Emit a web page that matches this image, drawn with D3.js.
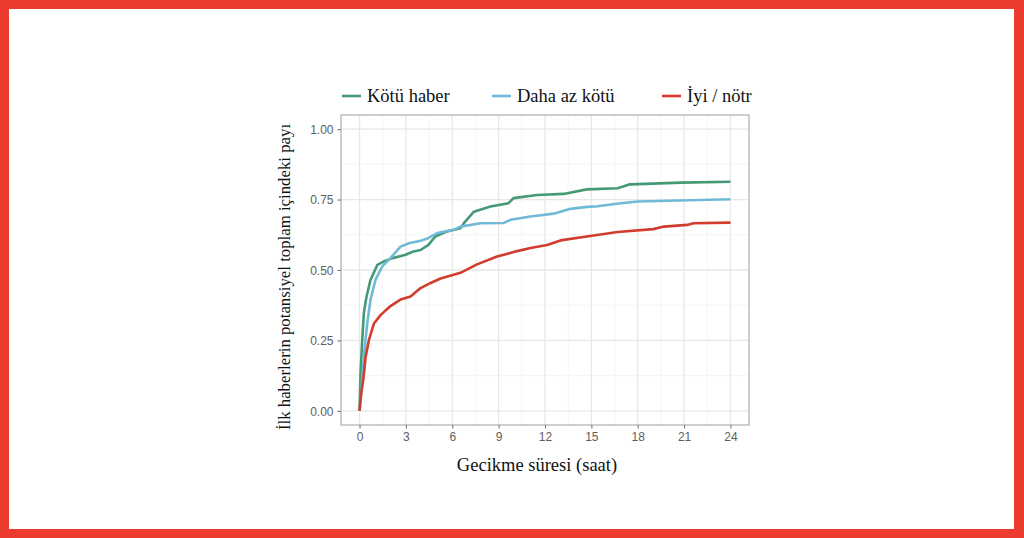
<!DOCTYPE html>
<html>
<head>
<meta charset="utf-8">
<script src="https://cdn.jsdelivr.net/npm/d3@7"></script>
<style>
  html, body { margin: 0; padding: 0; background: #fff; }
  .tick-label { font-family: "Liberation Sans", Arial, sans-serif; font-size: 12px; fill: #5e5e5e; }
  .title { font-family: "Liberation Serif", "Times New Roman", serif; font-size: 18.5px; fill: #111; }
</style>
</head>
<body>
<div id="chart"></div>
<script>
// series: [hours, share]
var seriesNames = ["Kötü haber", "Daha az kötü", "İyi / nötr"],
    seriesColors = ["#449a74", "#70bad8", "#d23c2c"];

var kotuHaber = [[0,0],[0.065,0.136],[0.175,0.253],[0.28,0.349],[0.45,0.405],[0.71,0.465],[1.15,0.518],[1.55,0.530],
    [2.2,0.543],[2.98,0.554],[3.5,0.566],[3.95,0.571],[4.46,0.589],[4.9,0.619],[5.67,0.637],[6.53,0.648],[6.75,0.666],
    [7.4,0.707],[8.47,0.725],[9.64,0.737],[9.96,0.755],[11.5,0.766],[13.2,0.770],[14.7,0.786],[16.7,0.790],[17.5,0.804],
    [20.8,0.810],[24,0.813]];

var dahaAzKotu = [[0,0],[0.1,0.06],[0.17,0.11],[0.28,0.194],[0.5,0.312],[0.71,0.395],[1.03,0.465],[1.47,0.513],
    [2.0,0.542],[2.65,0.583],[3.19,0.595],[3.95,0.604],[4.4,0.612],[5.03,0.631],[6.1,0.643],[6.53,0.654],[7.83,0.666],
    [9.33,0.667],[9.77,0.678],[11.06,0.690],[12.57,0.700],[13.65,0.717],[14.7,0.724],[15.4,0.726],[16.9,0.737],
    [18,0.743],[24,0.751]];

var iyiNotr = [[0,0],[0.1,0.06],[0.24,0.11],[0.39,0.19],[0.6,0.25],[0.93,0.31],[1.36,0.34],[2.0,0.372],[2.65,0.395],
    [3.3,0.406],[3.95,0.436],[4.6,0.454],[5.24,0.47],[6.53,0.49],[7.6,0.52],[8.9,0.548],[10.2,0.567],[11.06,0.578],
    [12.14,0.589],[13,0.605],[14.7,0.619],[16.7,0.635],[19,0.645],[19.7,0.654],[21.2,0.66],[21.6,0.666],[24,0.668]];

var xTicks = [0, 3, 6, 9, 12, 15, 18, 21, 24],
    yTicks = [0, 0.25, 0.5, 0.75, 1];

var xTitle = "Gecikme süresi (saat)",
    yTitle = "İlk haberlerin potansiyel toplam içindeki payı";

// settings
var W = 1024, H = 538,
    panel = { left: 341, right: 749, top: 115, bottom: 425 };

var x = d3.scaleLinear().domain([-1.2, 25.2]).range([panel.left, panel.right]),
    y = d3.scaleLinear().domain([-0.05, 1.05]).range([panel.bottom, panel.top]);

var svg = d3.select("#chart").append("svg")
    .attr("width", W)
    .attr("height", H);

// red frame
svg.append("rect").attr("width", W).attr("height", H).attr("fill", "#ee3b30");
svg.append("rect").attr("x", 9).attr("y", 9).attr("width", 1005).attr("height", 520).attr("fill", "#fff");

// grid
var xMinor = xTicks.slice(1).map(function(d) { return d - 1.5; }),
    yMinor = yTicks.slice(1).map(function(d) { return d - 0.125; });

var grid = svg.append("g");
grid.selectAll(".xminor").data(xMinor).enter().append("line")
    .attr("x1", x).attr("x2", x).attr("y1", panel.top).attr("y2", panel.bottom)
    .attr("stroke", "#f2f2f2").attr("stroke-width", 0.8);
grid.selectAll(".yminor").data(yMinor).enter().append("line")
    .attr("y1", y).attr("y2", y).attr("x1", panel.left).attr("x2", panel.right)
    .attr("stroke", "#f2f2f2").attr("stroke-width", 0.8);
grid.selectAll(".xmajor").data(xTicks).enter().append("line")
    .attr("x1", x).attr("x2", x).attr("y1", panel.top).attr("y2", panel.bottom)
    .attr("stroke", "#e8e8e8").attr("stroke-width", 1.3);
grid.selectAll(".ymajor").data(yTicks).enter().append("line")
    .attr("y1", y).attr("y2", y).attr("x1", panel.left).attr("x2", panel.right)
    .attr("stroke", "#e8e8e8").attr("stroke-width", 1.3);

// lines
var line = d3.line()
    .x(function(d) { return x(d[0]); })
    .y(function(d) { return y(d[1]); });

[kotuHaber, dahaAzKotu, iyiNotr].forEach(function(s, i) {
    svg.append("path")
        .datum(s)
        .attr("d", line)
        .attr("fill", "none")
        .attr("stroke", seriesColors[i])
        .attr("stroke-width", 2.6)
        .attr("stroke-linejoin", "round");
});

// panel border
svg.append("rect")
    .attr("x", panel.left).attr("y", panel.top)
    .attr("width", panel.right - panel.left).attr("height", panel.bottom - panel.top)
    .attr("fill", "none").attr("stroke", "#a6a6a6").attr("stroke-width", 1.1);

// axes
var xAxis = svg.append("g")
    .attr("transform", "translate(0," + panel.bottom + ")")
    .call(d3.axisBottom(x).tickValues(xTicks).tickSize(3.5).tickPadding(4).tickFormat(d3.format("d")));
var yAxis = svg.append("g")
    .attr("transform", "translate(" + panel.left + ",0)")
    .call(d3.axisLeft(y).tickValues(yTicks).tickSize(3.5).tickPadding(4).tickFormat(d3.format(".2f")));

[xAxis, yAxis].forEach(function(a) {
    a.select(".domain").remove();
    a.selectAll(".tick line").attr("stroke", "#777").attr("stroke-width", 1.1);
    a.selectAll(".tick text").attr("class", "tick-label").attr("fill", null).style("font-size", null).style("font-family", null);
});
yAxis.selectAll(".tick text").attr("dy", "0.35em");

// titles
svg.append("text")
    .attr("class", "title")
    .attr("x", 537)
    .attr("y", 471)
    .style("text-anchor", "middle")
    .text(xTitle);

svg.append("text")
    .attr("class", "title")
    .attr("transform", "translate(290,277) rotate(-90)")
    .style("text-anchor", "middle")
    .style("font-size", "16.8px")
    .text(yTitle);

// legend
var legendX = [342, 492, 662];
var legend = svg.selectAll(".legend")
    .data(seriesNames)
    .enter().append("g")
        .attr("transform", function(d, i) { return "translate(" + legendX[i] + ",96)"; });
legend.append("line")
    .attr("x1", 0).attr("x2", 19)
    .attr("stroke", function(d, i) { return seriesColors[i]; })
    .attr("stroke-width", 2.6);
legend.append("text")
    .attr("class", "title")
    .attr("x", 25)
    .attr("dy", "0.32em")
    .text(function(d) { return d; });
</script>
</body>
</html>
